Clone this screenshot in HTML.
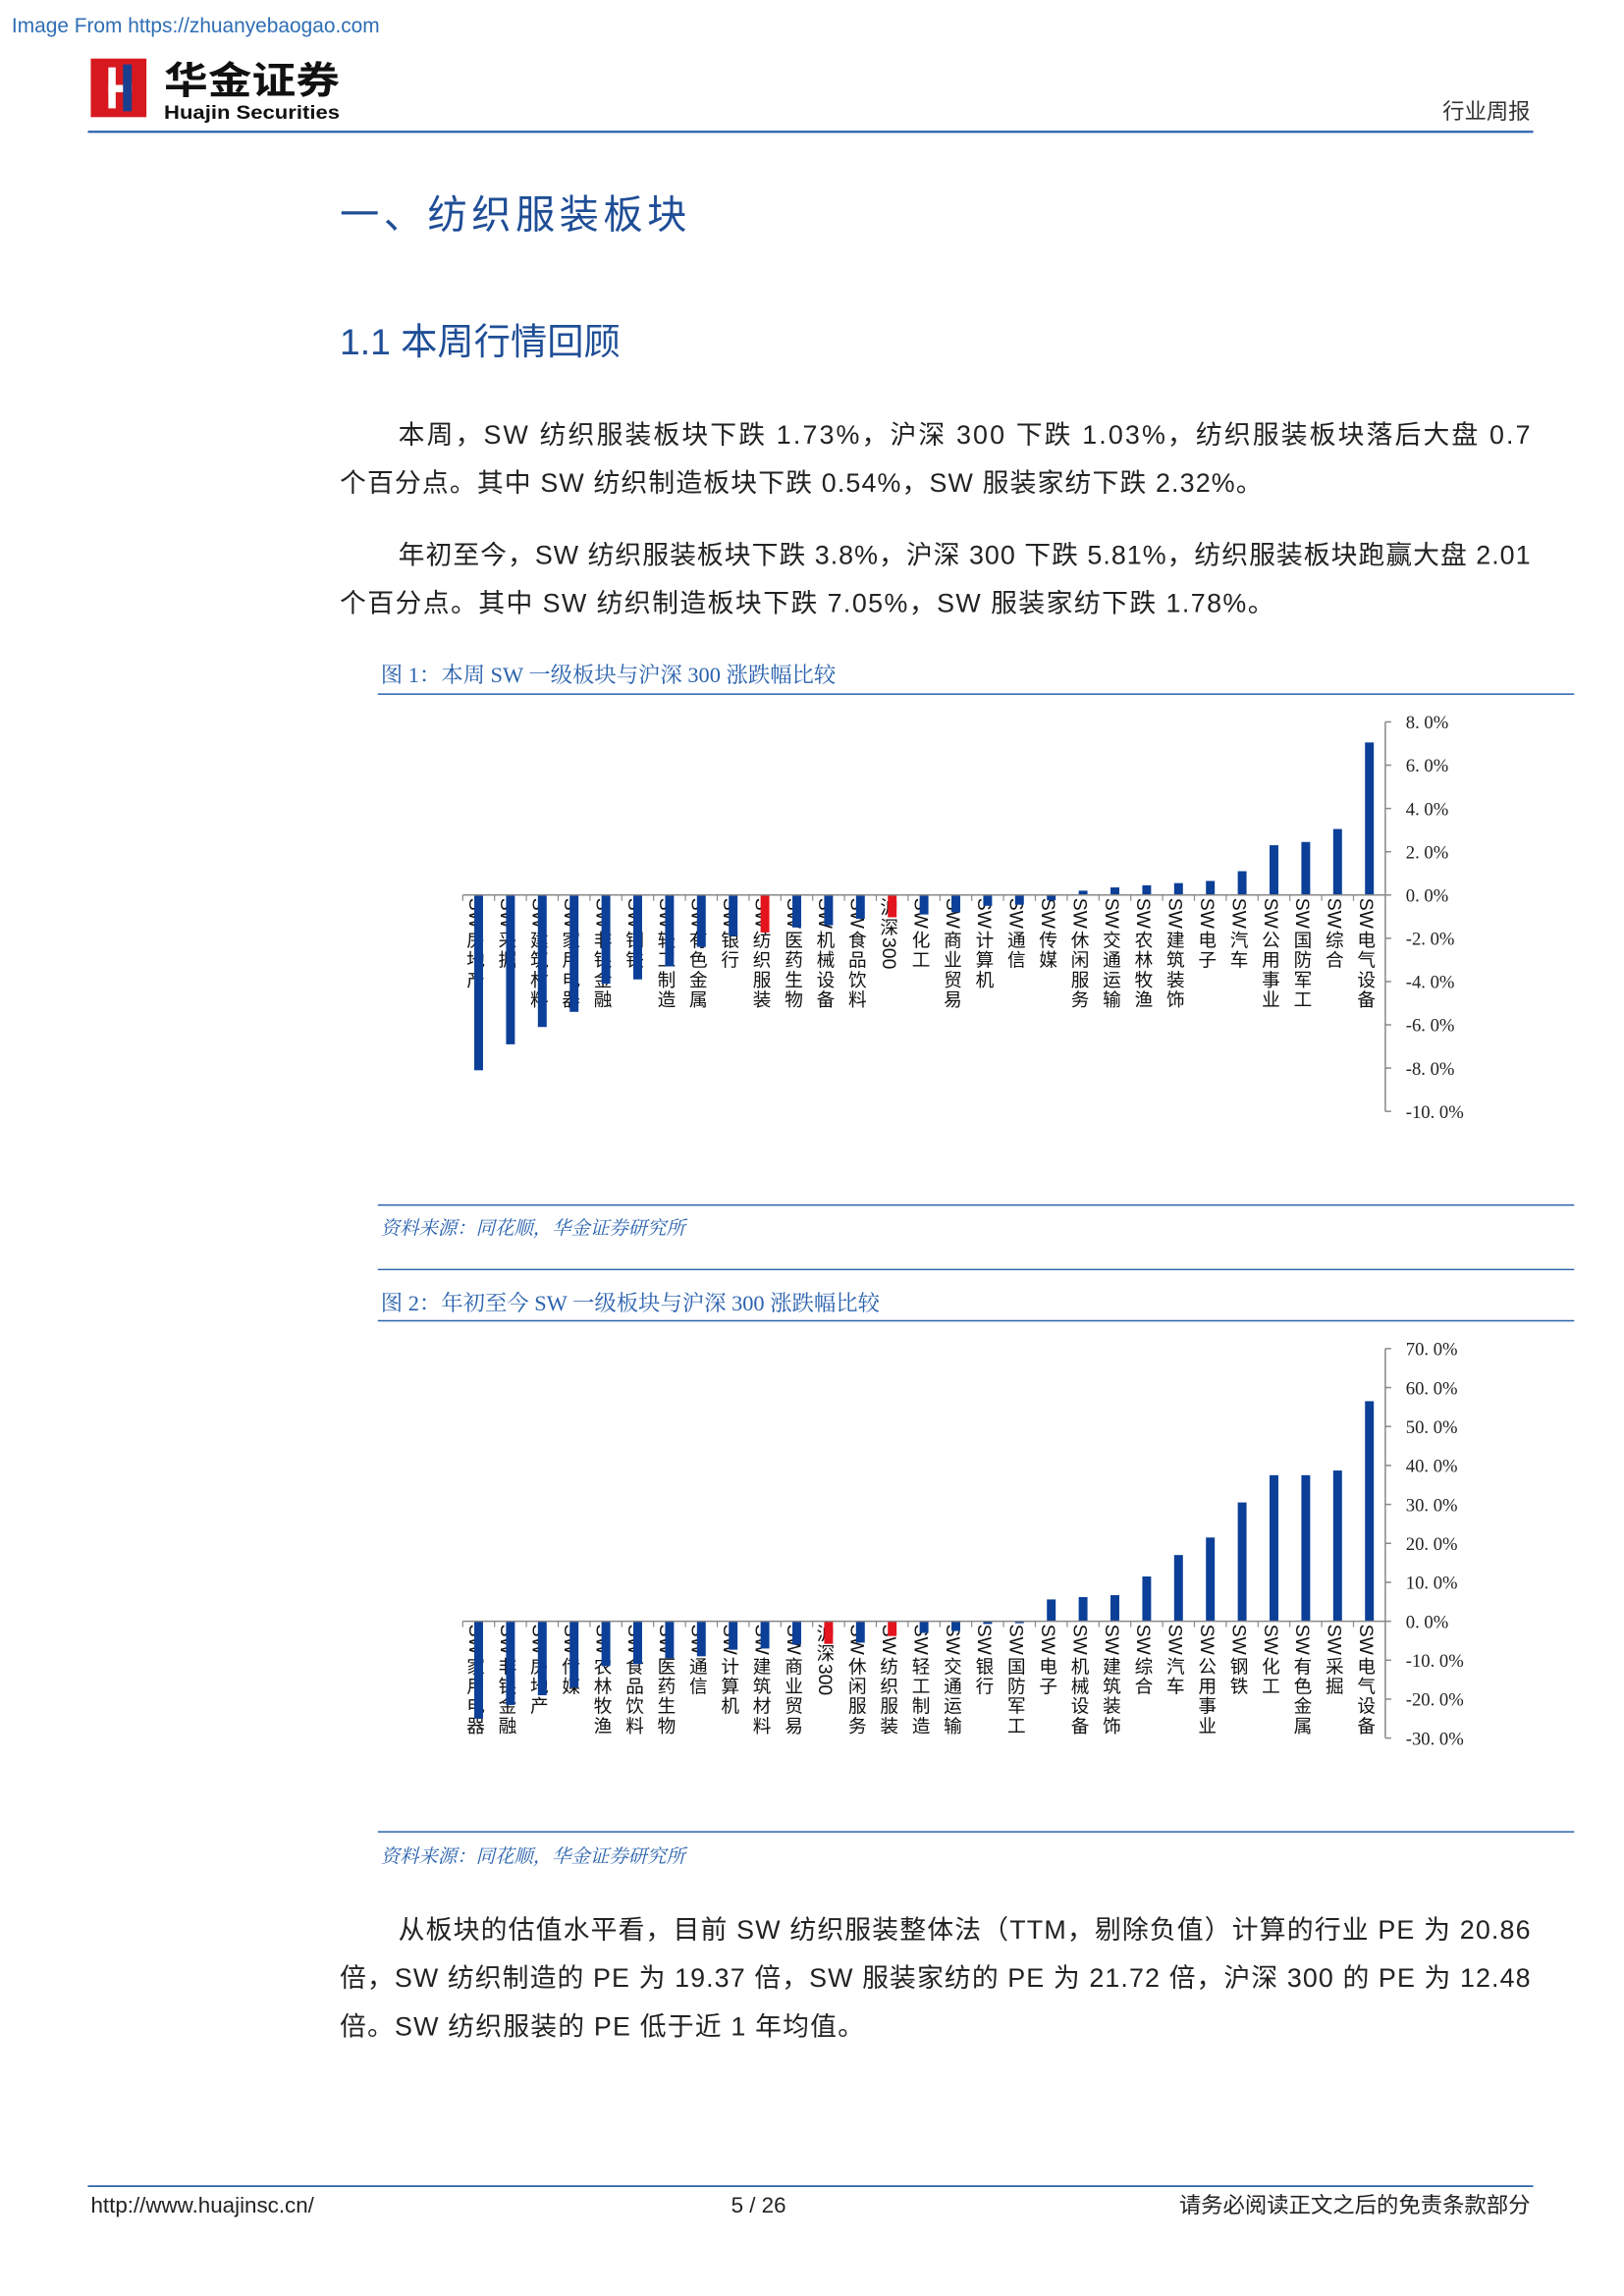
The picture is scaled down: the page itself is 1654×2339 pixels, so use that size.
<!DOCTYPE html>
<html><head><meta charset="utf-8"><style>
html,body{margin:0;padding:0;background:#fff}
svg{display:block}
text{font-family:"Liberation Sans","Noto Sans CJK SC",sans-serif}
.serif{font-family:"Liberation Serif","Noto Serif CJK SC",serif}
</style></head><body>
<svg id="page" width="1654" height="2339" viewBox="0 0 1109 1568" preserveAspectRatio="none" xmlns="http://www.w3.org/2000/svg">
<text x="8" y="22" font-size="14" fill="#2f6eb5">Image From https://zhuanyebaogao.com</text>
<g>
<rect x="62" y="40" width="38" height="40" fill="#d7191f"/>
<rect x="74" y="46" width="5" height="28" fill="#fff"/>
<rect x="74" y="58" width="16" height="5" fill="#fff"/>
<rect x="84" y="44" width="6" height="32" fill="#1a3f8f"/>
<text x="112" y="64" font-size="26" font-weight="bold" fill="#111" textLength="120" lengthAdjust="spacingAndGlyphs">华金证券</text>
<text x="112" y="81" font-size="13" font-weight="bold" fill="#111" textLength="120" lengthAdjust="spacingAndGlyphs">Huajin Securities</text>
</g>
<text x="1045" y="81" font-size="15" text-anchor="end" fill="#333">行业周报</text>
<line x1="60" y1="90" x2="1047" y2="90" stroke="#2a62ad" stroke-width="1.5"/>
<text x="232" y="156" font-size="27" fill="#1f4e96" letter-spacing="3">一、纺织服装板块</text>
<text x="232" y="242" font-size="25" fill="#1f4e96">1.1 本周行情回顾</text>
<g font-size="18" fill="#222">
<text x="272" y="303" textLength="773" lengthAdjust="spacing">本周，SW 纺织服装板块下跌 1.73%，沪深 300 下跌 1.03%，纺织服装板块落后大盘 0.7</text>
<text x="232" y="336" textLength="630" lengthAdjust="spacing">个百分点。其中 SW 纺织制造板块下跌 0.54%，SW 服装家纺下跌 2.32%。</text>
</g>
<g font-size="18" fill="#222">
<text x="272" y="385" textLength="773" lengthAdjust="spacing">年初至今，SW 纺织服装板块下跌 3.8%，沪深 300 下跌 5.81%，纺织服装板块跑赢大盘 2.01</text>
<text x="232" y="418" textLength="638" lengthAdjust="spacing">个百分点。其中 SW 纺织制造板块下跌 7.05%，SW 服装家纺下跌 1.78%。</text>
</g>
<text class="serif" x="260" y="466" font-size="15" fill="#2a62ad">图 1：本周 SW 一级板块与沪深 300 涨跌幅比较</text>
<line x1="258" y1="474" x2="1075" y2="474" stroke="#2a62ad" stroke-width="1"/>
<g id="chart1"></g>
<line x1="258" y1="823" x2="1075" y2="823" stroke="#2a62ad" stroke-width="1"/>
<text class="serif" x="260" y="843" font-size="13" font-style="italic" fill="#2a62ad">资料来源：同花顺，华金证券研究所</text>
<line x1="258" y1="867" x2="1075" y2="867" stroke="#2a62ad" stroke-width="1"/>
<text class="serif" x="260" y="895" font-size="15" fill="#2a62ad">图 2：年初至今 SW 一级板块与沪深 300 涨跌幅比较</text>
<line x1="258" y1="902" x2="1075" y2="902" stroke="#2a62ad" stroke-width="1"/>
<g id="chart2"></g>
<line x1="258" y1="1251" x2="1075" y2="1251" stroke="#2a62ad" stroke-width="1"/>
<text class="serif" x="260" y="1272" font-size="13" font-style="italic" fill="#2a62ad">资料来源：同花顺，华金证券研究所</text>
<g font-size="18" fill="#222">
<text x="272" y="1324" textLength="773" lengthAdjust="spacing">从板块的估值水平看，目前 SW 纺织服装整体法（TTM，剔除负值）计算的行业 PE 为 20.86</text>
<text x="232" y="1357" textLength="813" lengthAdjust="spacing">倍，SW 纺织制造的 PE 为 19.37 倍，SW 服装家纺的 PE 为 21.72 倍，沪深 300 的 PE 为 12.48</text>
<text x="232" y="1390" textLength="358" lengthAdjust="spacing">倍。SW 纺织服装的 PE 低于近 1 年均值。</text>
</g>
<line x1="60" y1="1493" x2="1047" y2="1493" stroke="#2a62ad" stroke-width="1.2"/>
<text x="62" y="1511" font-size="15" fill="#222">http://www.huajinsc.cn/</text>
<text x="518" y="1511" font-size="15" text-anchor="middle" fill="#222">5 / 26</text>
<text x="1045" y="1511" font-size="15" text-anchor="end" fill="#222">请务必阅读正文之后的免责条款部分</text>
</svg>
<script>
const cats1 = ["SW房地产","SW采掘","SW建筑材料","SW家用电器","SW非银金融","SW钢铁","SW轻工制造","SW有色金属","SW银行","SW纺织服装","SW医药生物","SW机械设备","SW食品饮料","沪深300","SW化工","SW商业贸易","SW计算机","SW通信","SW传媒","SW休闲服务","SW交通运输","SW农林牧渔","SW建筑装饰","SW电子","SW汽车","SW公用事业","SW国防军工","SW综合","SW电气设备"];
const vals1 = [-8.1,-6.9,-6.1,-5.4,-4.1,-3.9,-3.3,-2.4,-1.9,-1.73,-1.5,-1.4,-1.1,-1.03,-0.9,-0.8,-0.5,-0.45,-0.25,0.2,0.35,0.45,0.55,0.65,1.1,2.3,2.45,3.05,7.05];
const ticks1 = [8,6,4,2,0,-2,-4,-6,-8,-10];
const cats2 = ["SW家用电器","SW非银金融","SW房地产","SW传媒","SW农林牧渔","SW食品饮料","SW医药生物","SW通信","SW计算机","SW建筑材料","SW商业贸易","沪深300","SW休闲服务","SW纺织服装","SW轻工制造","SW交通运输","SW银行","SW国防军工","SW电子","SW机械设备","SW建筑装饰","SW综合","SW汽车","SW公用事业","SW钢铁","SW化工","SW有色金属","SW采掘","SW电气设备"];
const vals2 = [-25,-21.5,-19,-17,-11.5,-11,-9.5,-9,-7.3,-7,-6,-5.81,-5.5,-3.8,-3,-2.5,-0.7,-0.5,5.6,6.2,6.7,11.5,17,21.5,30.5,37.5,37.5,38.7,56.5];
const ticks2 = [70,60,50,40,30,20,10,0,-10,-20,-30];
const highlight = ["SW纺织服装","沪深300"];

const NS="http://www.w3.org/2000/svg";
function mk(tag,attrs,parent){const e=document.createElementNS(NS,tag);for(const k in attrs)e.setAttribute(k,attrs[k]);parent.appendChild(e);return e;}

function drawLabel(g,label,cx,y0){
  const lg=mk('g',{},g);
  
  
  const parts=label.match(/[A-Za-z0-9]+|[^A-Za-z0-9]/g);
  let y=y0;
  parts.forEach(p=>{
    if(/^[A-Za-z0-9]+$/.test(p)){
      const t=mk('text',{x:0,y:0,'font-size':13,fill:'#111',transform:`translate(${cx-4.5},${y}) rotate(90)`},lg);
      t.textContent=p;
      let len=p.length*9;
      try{len=t.getComputedTextLength();}catch(e){}
      y+=len+1.5;
    }else{
      const t=mk('text',{x:cx,y:y+11,'font-size':12.5,fill:'#111','text-anchor':'middle'},lg);
      t.textContent=p;
      y+=13.5;
    }
  });
}

function drawChart(g,cats,vals,ticks,topY,botY,x0,x1){
  const tmax=ticks[0], tmin=ticks[ticks.length-1];
  const y=v=>topY+(tmax-v)/(tmax-tmin)*(botY-topY);
  const step=(x1-x0)/cats.length;
  const xc=i=>x0+step*(i+0.5);
  const zy=y(0);
  const ax=mk('line',{x1:x1,y1:topY,x2:x1,y2:botY,stroke:'#888','stroke-width':1},g);
  
  
  ticks.forEach(t=>{
    const ty=y(t);
    mk('line',{x1:x1,y1:ty,x2:x1+4,y2:ty,stroke:'#888','stroke-width':1},g);
    const lb=mk('text',{x:x1+14,y:ty+4.5,'font-size':12.5,fill:'#222','class':'serif'},g);
    lb.textContent=t.toFixed(1).replace('.', '. ')+'%';
    
    
  });
  cats.forEach((c,i)=>{
    const v=vals[i];
    const yy=y(v);
    mk('line',{x1:x0+step*i,y1:zy,x2:x0+step*i,y2:zy+4,stroke:'#888','stroke-width':0.8},g);
    drawLabel(g,c,xc(i)-2,zy+2);
    const r=mk('rect',{x:xc(i)-3,y:Math.min(yy,zy),width:6,height:Math.max(0.8,Math.abs(yy-zy)),fill:highlight.includes(c)?'#e3141d':'#0b3f98'},g);
    
    
  });
  const zl=mk('line',{x1:x0,y1:zy,x2:x1,y2:zy,stroke:'#888','stroke-width':1},g);
  
  
}
drawChart(document.getElementById('chart1'),cats1,vals1,ticks1,493,759,316,946);
drawChart(document.getElementById('chart2'),cats2,vals2,ticks2,921,1187,316,946);
</script>
</body></html>
